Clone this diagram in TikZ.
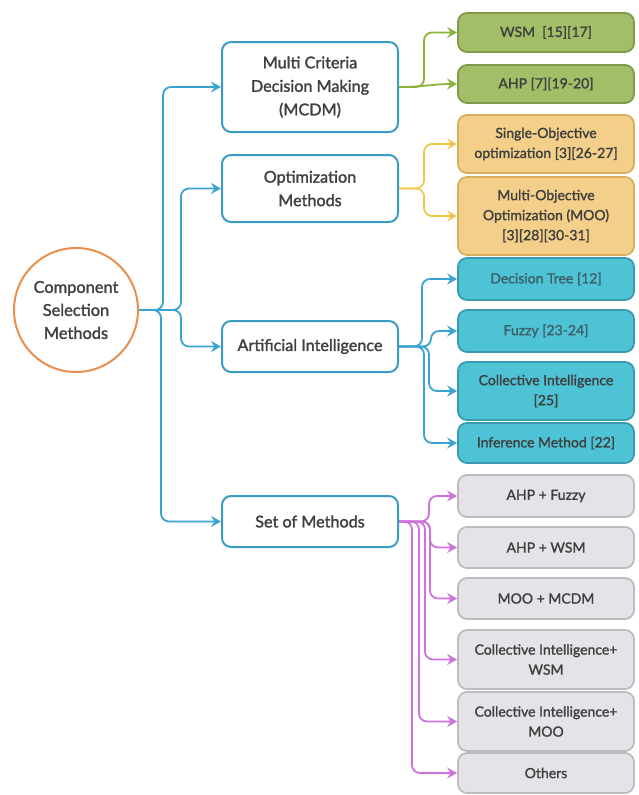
\documentclass[tikz,border=0pt]{standalone}
\usepackage{fontspec}
\setmainfont{Lato}[FakeBold=1.6]
\usetikzlibrary{arrows.meta}
\definecolor{txt}{HTML}{404040}
\definecolor{txtlt}{HTML}{3F5F68}
\definecolor{blueln}{HTML}{3BA3CF}
\definecolor{lvlbd}{HTML}{3A9CC4}
\definecolor{grfill}{HTML}{A2BF68}
\definecolor{grbd}{HTML}{7E9A4A}
\definecolor{grln}{HTML}{8CB43A}
\definecolor{orfill}{HTML}{F3CF8A}
\definecolor{orbd}{HTML}{D9AE5E}
\definecolor{yeln}{HTML}{F0C850}
\definecolor{tefill}{HTML}{4EC3D5}
\definecolor{tebd}{HTML}{3A9BB0}
\definecolor{gyfill}{HTML}{E5E3E7}
\definecolor{gybd}{HTML}{BDBBBF}
\definecolor{viln}{HTML}{CC72DC}
\definecolor{circbd}{HTML}{E88F4E}
\tikzset{
  lvl/.style={draw=lvlbd, line width=2pt, fill=white, rounded corners=9pt, minimum width=176pt, align=center, text=txt, font=\fontsize{16.2}{23.5}\selectfont, inner sep=0pt},
  leaf/.style={line width=1.8pt, rounded corners=9pt, minimum width=176pt, align=center, text=txt, font=\fontsize{14}{20}\selectfont, inner sep=0pt},
  grleaf/.style={leaf, fill=grfill, draw=grbd},
  orleaf/.style={leaf, fill=orfill, draw=orbd},
  teleaf/.style={leaf, fill=tefill, draw=tebd},
  gyleaf/.style={leaf, fill=gyfill, draw=gybd},
  conn/.style={line width=1.8pt, rounded corners=8pt, -{Stealth[length=10pt,width=11pt,inset=3.5pt]}},
  bl/.style={conn, draw=blueln},
  gl/.style={conn, draw=grln},
  yl/.style={conn, draw=yeln},
  vl/.style={conn, draw=viln},
}
\begin{document}
\begin{tikzpicture}[x=1pt,y=-1pt]
\useasboundingbox (0,0) rectangle (638,795);
% root
\node[circle, draw=circbd, line width=2pt, minimum size=124pt, inner sep=0pt, align=center, text=txt, font=\fontsize{16.4}{23}\selectfont] (csm) at (76,310) {Component\\Selection\\Methods};
% level 1
\node[lvl, minimum height=90pt] (mcdm) at (310,87) {Multi Criteria\\Decision Making\\(MCDM)};
\node[lvl, minimum height=67pt] (opt) at (310,188.5) {Optimization\\Methods};
\node[lvl, minimum height=51pt] (ai) at (310,346.5) {Artificial Intelligence};
\node[lvl, minimum height=51pt] (setm) at (310,521.5) {Set of Methods};
% leaves
\node[grleaf, minimum height=39pt] (wsm) at (546,32.5) {WSM\ \ [15][17]};
\node[grleaf, minimum height=38pt] (ahp) at (546,84) {AHP [7][19-20]};
\node[orleaf, minimum height=58pt] (single) at (546,144) {Single-Objective\\optimization [3][26-27]};
\node[orleaf, minimum height=78pt] (moo) at (546,216) {Multi-Objective\\Optimization (MOO)\\{}[3][28][30-31]};
\node[teleaf, minimum height=42pt, text=txtlt] (dt) at (546,279) {Decision Tree [12]};
\node[teleaf, minimum height=42pt, text=txtlt] (fz) at (546,331) {Fuzzy [23-24]};
\node[teleaf, minimum height=58pt] (ci) at (546,391) {Collective Intelligence\\{}[25]};
\node[teleaf, minimum height=40pt] (inf) at (546,443) {Inference Method [22]};
\node[gyleaf, minimum height=42pt] (ahpf) at (546,496) {AHP + Fuzzy};
\node[gyleaf, minimum height=41pt] (ahpw) at (546,547.5) {AHP + WSM};
\node[gyleaf, minimum height=41pt] (moom) at (546,598.5) {MOO + MCDM};
\node[gyleaf, minimum height=59pt] (ciw) at (546,659.5) {Collective Intelligence+\\WSM};
\node[gyleaf, minimum height=59pt] (cim) at (546,721.5) {Collective Intelligence+\\MOO};
\node[gyleaf, minimum height=40pt] (oth) at (546,773) {Others};
% root connectors
\draw[bl] (csm.east) -- ++(24,0) |- (mcdm.west);
\draw[bl] (csm.east) -- ++(42,0) |- (opt.west);
\draw[bl] (csm.east) -- ++(42,0) |- (ai.west);
\draw[bl] (csm.east) -- ++(22,0) |- (setm.west);
% MCDM
\draw[gl] (mcdm.east) -- ++(25,0) |- (wsm.west);
\draw[gl] (mcdm.east) to[out=0,in=180] (ahp.west);
% Optimization
\draw[yl] (opt.east) -- ++(25,0) |- (single.west);
\draw[yl] (opt.east) -- ++(25,0) |- (moo.west);
% AI
\draw[bl] (ai.east) -- ++(23,0) |- (dt.west);
\draw[bl] (ai.east) -- ++(32,0) |- (fz.west);
\draw[bl] (ai.east) -- ++(30,0) |- (ci.west);
\draw[bl] (ai.east) -- ++(25,0) |- (inf.west);
% Set of methods
\draw[vl] (setm.east) -- ++(30,0) |- (ahpf.west);
\draw[vl] (setm.east) -- ++(31,0) |- (ahpw.west);
\draw[vl] (setm.east) -- ++(31,0) |- (moom.west);
\draw[vl] (setm.east) -- ++(26,0) |- (ciw.west);
\draw[vl] (setm.east) -- ++(20,0) |- (cim.west);
\draw[vl] (setm.east) -- ++(13,0) |- (oth.west);
\end{tikzpicture}
\end{document}
